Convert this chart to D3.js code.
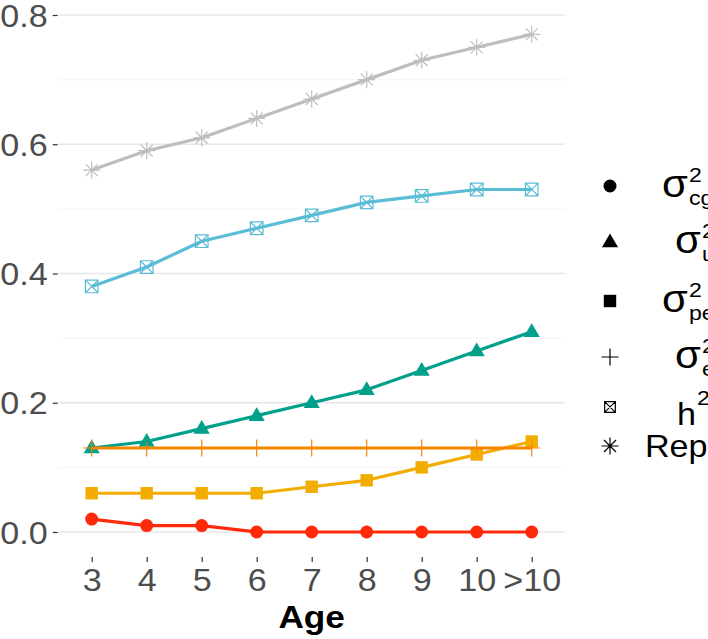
<!DOCTYPE html>
<html><head><meta charset="utf-8">
<script src="https://cdn.jsdelivr.net/npm/d3@7"></script>
<style>body{margin:0;background:#fff}svg{display:block}</style>
</head><body>
<svg id="c" width="708" height="639"></svg>
<script>
// ---- data ----
const ages = ["3","4","5","6","7","8","9","10",">10"];
const sigmaCg = [0.02,0.01,0.01,0.00,0.00,0.00,0.00,0.00,0.00];
const sigmaU  = [0.13,0.14,0.16,0.18,0.20,0.22,0.25,0.28,0.31];
const sigmaPe = [0.06,0.06,0.06,0.06,0.07,0.08,0.10,0.12,0.14];
const sigmaE  = [0.13,0.13,0.13,0.13,0.13,0.13,0.13,0.13,0.13];
const h2      = [0.38,0.41,0.45,0.47,0.49,0.51,0.52,0.53,0.53];
const rep     = [0.56,0.59,0.61,0.64,0.67,0.70,0.73,0.75,0.77];
const yTicks = [0,0.2,0.4,0.6,0.8];
const yTickLabels = ["0.0","0.2","0.4","0.6","0.8"];
const yMinor = [0.1,0.3,0.5,0.7];
const xTitle = "Age";

const series = [
  {key:"cg", vals:sigmaCg, color:"#FF2A0A", shape:"circle", label:{sym:"σ", sup:"2", sub:"cg"}},
  {key:"u",  vals:sigmaU,  color:"#00A08A", shape:"triangle", label:{sym:"σ", sup:"2", sub:"u"}},
  {key:"pe", vals:sigmaPe, color:"#F2AD00", shape:"square", label:{sym:"σ", sup:"2", sub:"pe"}},
  {key:"e",  vals:sigmaE,  color:"#F98400", shape:"plus", label:{sym:"σ", sup:"2", sub:"e"}},
  {key:"h2", vals:h2,      color:"#5BBCD6", shape:"boxx", label:{sym:"h", sup:"2", sub:""}},
  {key:"rep",vals:rep,     color:"#BEBEBE", shape:"star", label:{sym:"Rep", sup:"", sub:""}}
];

// ---- layout ----
const svg = d3.select("#c");
const panel = {l:58.7, r:564.7, t:9.5, b:557};
const x = d3.scalePoint().domain(ages).range([91.7, 531.7]);
const y = d3.scaleLinear().domain([0,0.8]).range([532, 15]);
const font = "'Liberation Sans', Arial, Helvetica, sans-serif";
const wide = 1.1; // horizontal stretch of glyphs seen in the reference

// gridlines
svg.append("g").selectAll("line").data(yMinor).join("line")
  .attr("x1",panel.l).attr("x2",panel.r)
  .attr("y1",d=>y(d)).attr("y2",d=>y(d))
  .attr("stroke","#F2F2F2").attr("stroke-width",0.8);
svg.append("g").selectAll("line").data(yTicks).join("line")
  .attr("x1",panel.l).attr("x2",panel.r)
  .attr("y1",d=>y(d)).attr("y2",d=>y(d))
  .attr("stroke","#E6E6E6").attr("stroke-width",1.4);

// axes
const yAxis = d3.axisLeft(y).tickValues(yTicks).tickFormat((d,i)=>yTickLabels[i]).tickSize(5).tickPadding(5);
const gy = svg.append("g").attr("transform",`translate(${panel.l-1},0)`).call(yAxis);
gy.select(".domain").remove();
gy.selectAll(".tick line").attr("stroke","#333").attr("stroke-width",1.2);
gy.selectAll(".tick text").attr("font-family",font).attr("font-size",31).attr("fill","#4D4D4D")
  .attr("dy","0.36em").attr("x",null)
  .attr("transform",`translate(-10,0) scale(${wide},1)`);

const xAxis = d3.axisBottom(x).tickSize(5).tickPadding(7);
const gx = svg.append("g").attr("transform",`translate(0,${panel.b})`).call(xAxis);
gx.select(".domain").remove();
gx.selectAll(".tick line").attr("stroke","#333").attr("stroke-width",1.2);
gx.selectAll(".tick text").attr("font-family",font).attr("font-size",31).attr("fill","#4D4D4D")
  .attr("dy","0.71em").attr("transform",`scale(${wide},1)`);

svg.append("text").attr("transform",`translate(${(panel.l+panel.r)/2},628) scale(${wide},1)`)
  .attr("text-anchor","middle").attr("font-family",font).attr("font-weight","bold")
  .attr("font-size",32).attr("fill","#000").text(xTitle);

// shapes
function drawShape(g, shape, cx, cy, color, scale=1){
  const s = scale;
  if(shape==="circle"){
    g.append("circle").attr("cx",cx).attr("cy",cy).attr("r",6.5*s).attr("fill",color);
  } else if(shape==="triangle"){
    const r=8.5*s;
    g.append("path").attr("d",`M${cx},${cy-r}L${cx+r*0.95},${cy+r*0.62}L${cx-r*0.95},${cy+r*0.62}Z`).attr("fill",color);
  } else if(shape==="square"){
    const h=6.2*s;
    g.append("rect").attr("x",cx-h).attr("y",cy-h).attr("width",2*h).attr("height",2*h).attr("fill",color);
  } else if(shape==="plus"){
    const h=8.5*s;
    g.append("path").attr("d",`M${cx-h},${cy}H${cx+h}M${cx},${cy-h}V${cy+h}`)
      .attr("stroke",color).attr("stroke-width",1.2).attr("fill","none");
  } else if(shape==="boxx"){
    const h=6.3*s;
    g.append("path").attr("d",`M${cx-h},${cy-h}H${cx+h}V${cy+h}H${cx-h}ZM${cx-h},${cy-h}L${cx+h},${cy+h}M${cx+h},${cy-h}L${cx-h},${cy+h}`)
      .attr("stroke",color).attr("stroke-width",1.2).attr("fill","none");
  } else if(shape==="star"){
    const h=8.5*s, d=h*0.707;
    g.append("path").attr("d",`M${cx-h},${cy}H${cx+h}M${cx},${cy-h}V${cy+h}M${cx-d},${cy-d}L${cx+d},${cy+d}M${cx+d},${cy-d}L${cx-d},${cy+d}`)
      .attr("stroke",color).attr("stroke-width",1.2).attr("fill","none");
  }
}

// points first
const gp = svg.append("g");
series.forEach(s=>{
  s.vals.forEach((v,i)=>drawShape(gp, s.shape, x(ages[i]), y(v), s.color));
});
// lines on top
const line = d3.line().x((d,i)=>x(ages[i])).y(d=>y(d));
series.forEach(s=>{
  svg.append("path").datum(s.vals).attr("d",line)
    .attr("fill","none").attr("stroke",s.color).attr("stroke-width",3.2)
    .attr("stroke-linejoin","round");
});

// legend
const legY = [186, 242, 301, 357, 407, 446];
const legX = 610;
const labX = [662, 675, 662, 675, 677, 645];
const lg = svg.append("g");
function measure(str, size){
  const t = svg.append("text").attr("font-family",font).attr("font-size",size).text(str);
  const w = t.node().getComputedTextLength(); t.remove(); return w;
}
series.forEach((s,i)=>{
  drawShape(lg, s.shape, legX, legY[i], "#000", s.shape==="boxx"?0.85:1);
  const L = s.label;
  const t = lg.append("text").attr("transform",`translate(${labX[i]},${legY[i]}) scale(${wide},1)`)
    .attr("font-family",font).attr("fill","#000");
  if(L.sym==="σ"){
    const w = measure(L.sym, 38);
    t.append("tspan").attr("x",0).attr("y",11).attr("font-size",38).text(L.sym);
    t.append("tspan").attr("x",w+1).attr("y",-4).attr("font-size",21).text(L.sup);
    t.append("tspan").attr("x",w+1).attr("y",19).attr("font-size",21).text(L.sub);
  } else if(L.sup){
    const w = measure(L.sym, 31);
    t.append("tspan").attr("x",0).attr("y",18).attr("font-size",31).text(L.sym);
    t.append("tspan").attr("x",w+1).attr("y",-2).attr("font-size",21).text(L.sup);
  } else {
    t.append("tspan").attr("x",0).attr("y",11).attr("font-size",31).text(L.sym);
  }
});
</script>
</body></html>
